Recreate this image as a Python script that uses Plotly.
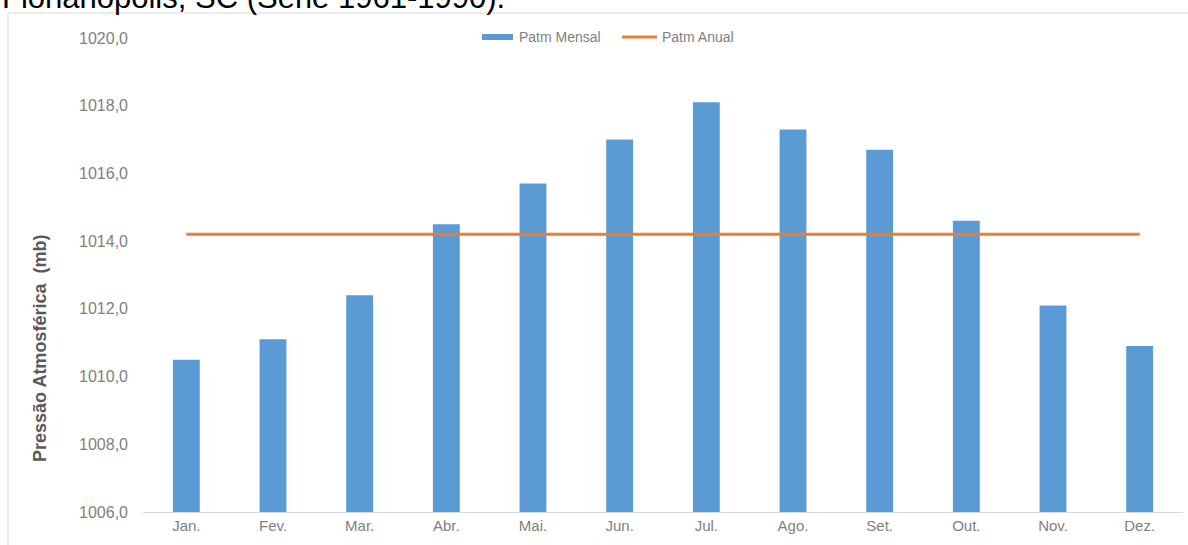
import plotly.graph_objects as go

# Monthly mean atmospheric pressure (mb), Florianópolis, SC, 1961-1990
meses = ["Jan.", "Fev.", "Mar.", "Abr.", "Mai.", "Jun.",
         "Jul.", "Ago.", "Set.", "Out.", "Nov.", "Dez."]
patm_mensal = [1010.5, 1011.1, 1012.4, 1014.5, 1015.7, 1017.0,
               1018.1, 1017.3, 1016.7, 1014.6, 1012.1, 1010.9]
patm_anual = 1014.2
y_ticks = [1006, 1008, 1010, 1012, 1014, 1016, 1018, 1020]

W, H = 1188, 545
ML, MR, MT, MB = 143, 5, 38, 33
PW, PH = W - ML - MR, H - MT - MB

BLUE = "#5B9BD5"
ORANGE = "#ED7D31"
FONT = "Liberation Sans"


def px_x(px):
    return (px - ML) / PW


def px_y(py):
    return (H - MB - py) / PH


fig = go.Figure()

fig.add_trace(go.Bar(
    x=meses, y=[v - y_ticks[0] for v in patm_mensal], base=y_ticks[0],
    marker=dict(color=BLUE, line=dict(width=0)),
    name="Patm Mensal", showlegend=False,
))

fig.add_trace(go.Scatter(
    x=meses, y=[patm_anual] * len(meses), mode="lines",
    line=dict(color=ORANGE, width=3),
    name="Patm Anual", showlegend=False,
))

shapes = [
    # chart frame (left and top edges)
    dict(type="line", xref="paper", yref="paper",
         x0=px_x(8), x1=px_x(8), y0=px_y(13), y1=px_y(560),
         line=dict(color="#D9D9D9", width=1)),
    dict(type="line", xref="paper", yref="paper",
         x0=px_x(8), x1=px_x(1200), y0=px_y(13), y1=px_y(13),
         line=dict(color="#D9D9D9", width=1)),
    # legend symbols
    dict(type="rect", xref="paper", yref="paper",
         x0=px_x(482), x1=px_x(513), y0=px_y(34), y1=px_y(40),
         fillcolor=BLUE, line=dict(width=0)),
    dict(type="line", xref="paper", yref="paper",
         x0=px_x(622), x1=px_x(657), y0=px_y(37), y1=px_y(37),
         line=dict(color=ORANGE, width=3)),
]

annotations = [
    dict(text="Florianópolis, SC (Série 1961-1990).", xref="paper", yref="paper",
         x=px_x(0), y=px_y(17), xanchor="left", yanchor="bottom",
         showarrow=False, font=dict(family=FONT, size=31, color="#000000")),
    dict(text="Patm Mensal", xref="paper", yref="paper",
         x=px_x(517), y=px_y(37), xanchor="left", yanchor="middle",
         showarrow=False, font=dict(family=FONT, size=14, color="#7F7F7F")),
    dict(text="Patm Anual", xref="paper", yref="paper",
         x=px_x(660), y=px_y(37), xanchor="left", yanchor="middle",
         showarrow=False, font=dict(family=FONT, size=14, color="#7F7F7F")),
    dict(text="<b>Pressão Atmosférica  (mb)</b>", xref="paper", yref="paper",
         x=px_x(40), y=px_y(349), xanchor="center", yanchor="middle",
         textangle=-90, showarrow=False,
         font=dict(family=FONT, size=18, color="#595959")),
]

fig.update_layout(
    width=W, height=H,
    margin=dict(l=ML, r=MR, t=MT, b=MB, pad=0),
    paper_bgcolor="white", plot_bgcolor="white",
    bargap=0.69,
    separators=",.",
    shapes=shapes,
    annotations=annotations,
    xaxis=dict(
        type="category", range=[-0.5, 11.5],
        showline=True, linecolor="#D9D9D9", linewidth=1,
        showgrid=False, ticks="",
        tickfont=dict(family=FONT, size=15, color="#808080"),
    ),
    yaxis=dict(
        range=[1006, 1020], tickvals=y_ticks, tickformat=".1f",
        showline=False, showgrid=False, zeroline=False, ticks="",
        ticklabelstandoff=14,
        tickfont=dict(family=FONT, size=16, color="#808080"),
    ),
)

fig.write_html("out.html")
